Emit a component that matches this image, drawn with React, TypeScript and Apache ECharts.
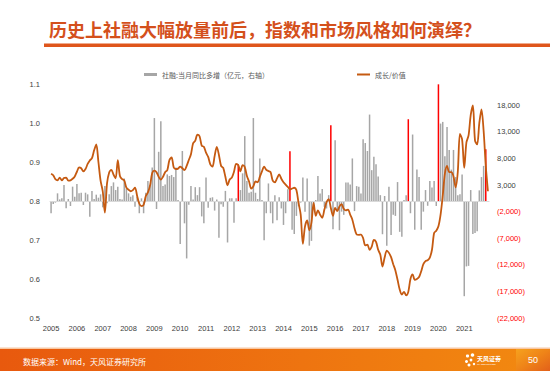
import React, { useEffect, useRef } from 'react';
import * as echarts from 'echarts';

// Monthly categories: Mar 2005 .. Feb 2022 (204 months)
const START_YEAR = 2005;
const START_MONTH = 3;
const MONTH_COUNT = 204;
const months: string[] = Array.from({ length: MONTH_COUNT }, (_, k) => {
  const m = START_MONTH - 1 + k;
  return `${START_YEAR + Math.floor(m / 12)}-${String((m % 12) + 1).padStart(2, '0')}`;
});

const yearLabels = ['2005', '2006', '2007', '2008', '2009', '2010', '2011', '2012', '2013', '2014', '2015', '2016', '2017', '2018', '2019', '2020', '2021'];

// 社融当月同比多增（亿元）
const tsfChange: (number | null)[] = [
  -2300, -560, -300, 1440, 300, 500, 3000, -1375, 375, -940, 2700, 800,
  3200, 1440, 1560, -750, 1560, 1250, -2940, 1875, 375, 1190, 625, 1250,
  -1190, 2800, -440, 1250, 2800, 3500, 2060, 2700, 375, 300, 4250, 2375,
  1440, 800, 1100, -1060, 800, -2300, 500, -2300, 1560, 3750, 3000, 6300,
  15600, -1500, 9250, 15000, 2800, 3100, 5000, 4700, 4900, 4500, 6300, 200,
  -8100, 9400, -4200, -10800, -700, 2800, 300, 2600, 1100, 2600, -2900, -4200,
  4400, -1250, 600, 700, -1800, 300, -6900, -600, -1100, 1900, -7800, 500,
  500, -4100, 500, 6880, 2060, 5200, 12200, 3750, 1560, 1750, 15600, 1560,
  375, 8000, 200, -7400, -2300, 3300, -2300, -4200, 1100, -3600, 700, -1400,
  -4500, -2300, 2200, 9375, -5400, -6200, -2800, -1000, -300, 4400, -2000, 4250,
  -8400, -7500, -1400, 200, 4700, 1400, 2250, -1100, -1400, 1100, 14250, -5300,
  11400, -1700, -5500, -2000, -2600, 3500, 3500, 3100, 8000, -1900, 2800, 2700,
  1400, 11600, 10900, 9400, 16250, 5800, 8300, 6900, 4600, 1100, -6250, 940,
  -8400, 2700, -6400, -2600, -2800, 3560, -5800, -6700, 200, 1100, 15375, -2300,
  12500, -5400, 5900, 4500, -5400, -2000, 2060, -900, 3750, 2560, 3750, -940,
  21940, 14560, 14875, 8400, 13900, 9600, 5900, 9600, 4500, 1100, 1250, 5000,
  -17900, -12300, -12200, 2060, -6200, -6000, -5700, 2000, 4500, 6600, 9750, null,
];

// 社融大幅放量月份（红色）
const surgeMonths = ['2012-06', '2014-06', '2016-01', '2019-01', '2020-03', '2022-01'];

// 成长/价值
const growthValue: number[] = [
  0.870, 0.866, 0.856, 0.853, 0.860, 0.853, 0.859, 0.860, 0.852, 0.853, 0.857, 0.863,
  0.875, 0.886, 0.884, 0.876, 0.882, 0.895, 0.904, 0.910, 0.930, 0.945, 0.900, 0.852,
  0.825, 0.770, 0.845, 0.873, 0.880, 0.868, 0.858, 0.905, 0.864, 0.856, 0.853, 0.834,
  0.829, 0.825, 0.828, 0.834, 0.813, 0.793, 0.787, 0.790, 0.812, 0.822, 0.840, 0.872,
  0.878, 0.874, 0.862, 0.855, 0.862, 0.874, 0.879, 0.905, 0.912, 0.886, 0.882, 0.883,
  0.888, 0.884, 0.879, 0.890, 0.905, 0.920, 0.948, 0.955, 0.970, 0.966, 0.942, 0.939,
  0.924, 0.913, 0.894, 0.888, 0.915, 0.939, 0.918, 0.890, 0.885, 0.862, 0.840, 0.855,
  0.860, 0.875, 0.895, 0.892, 0.876, 0.892, 0.887, 0.864, 0.850, 0.832, 0.838, 0.850,
  0.848, 0.862, 0.876, 0.888, 0.880, 0.877, 0.874, 0.852, 0.848, 0.858, 0.868, 0.857,
  0.848, 0.842, 0.836, 0.830, 0.832, 0.834, 0.828, 0.795, 0.765, 0.690, 0.735, 0.750,
  0.725, 0.745, 0.795, 0.762, 0.776, 0.765, 0.757, 0.778, 0.797, 0.805, 0.782, 0.762,
  0.782, 0.774, 0.786, 0.792, 0.780, 0.776, 0.778, 0.765, 0.752, 0.730, 0.714, 0.713,
  0.714, 0.705, 0.686, 0.688, 0.675, 0.683, 0.700, 0.695, 0.675, 0.662, 0.632, 0.655,
  0.673, 0.667, 0.656, 0.638, 0.622, 0.598, 0.573, 0.560, 0.567, 0.558, 0.567, 0.600,
  0.612, 0.598, 0.600, 0.605, 0.620, 0.638, 0.646, 0.648, 0.655, 0.675, 0.718, 0.724,
  0.735, 0.765, 0.813, 0.870, 0.890, 0.874, 0.874, 0.863, 0.835, 0.875, 0.972, 0.958,
  0.885, 0.950, 0.968, 1.020, 1.045, 0.955, 0.945, 1.000, 1.035, 0.980, 0.890, 0.825,
];

const rightAxisLabels = [-22000, -17000, -12000, -7000, -2000, 3000, 8000, 13000, 18000];

const BAR_NAME = '社融:当月同比多增（亿元，右轴）';
const LINE_NAME = '成长/价值';

const CJK = '"Noto Sans CJK SC", "Noto Sans", sans-serif';
const LATIN = '"Liberation Sans", Arial, sans-serif';

function fmtThousands(v: number): string {
  const s = Math.abs(v).toLocaleString('en-US');
  return v < 0 ? `(${s})` : s;
}

export default function App() {
  const ref = useRef<HTMLDivElement>(null);

  useEffect(() => {
    if (!ref.current) return;
    const chart = echarts.init(ref.current, null, { renderer: 'svg' });

    const barData = tsfChange.map((v, k) =>
      surgeMonths.includes(months[k]) ? { value: v, itemStyle: { color: '#FF0000' } } : v
    );

    chart.setOption({
      animation: false,
      backgroundColor: '#ffffff',
      title: {
        text: '历史上社融大幅放量前后，指数和市场风格如何演绎？',
        left: 44,
        top: 15,
        textStyle: { fontSize: 18, fontWeight: 'bold', color: '#D4501C', fontFamily: CJK },
      },
      legend: [
        {
          data: [{ name: BAR_NAME, icon: 'rect' }],
          left: 139,
          top: 66,
          itemWidth: 13,
          itemHeight: 3,
          textStyle: { fontSize: 7, color: '#595959', fontFamily: CJK },
        },
        {
          data: [{ name: LINE_NAME, icon: 'rect' }],
          left: 352,
          top: 66,
          itemWidth: 13,
          itemHeight: 2,
          textStyle: { fontSize: 7, color: '#595959', fontFamily: CJK },
        },
      ],
      grid: { left: 50, right: 61, top: 84, bottom: 53, outerBoundsMode: 'none' },
      xAxis: {
        type: 'category',
        data: months,
        boundaryGap: true,
        axisLine: { lineStyle: { color: '#D9D9D9', width: 1 } },
        axisTick: { interval: 11, length: 4, lineStyle: { color: '#D9D9D9' } },
        axisLabel: {
          interval: 11,
          margin: 6,
          fontSize: 7.5,
          color: '#404040',
          fontFamily: LATIN,
          formatter: (v: string, idx: number) => yearLabels[Math.round(idx / 12)] ?? v.slice(0, 4),
        },
        splitLine: { show: false },
      },
      yAxis: [
        {
          type: 'value',
          min: 0.5,
          max: 1.1,
          interval: 0.1,
          axisLine: { show: false },
          axisTick: { show: false },
          splitLine: { show: false },
          axisLabel: {
            margin: 10,
            fontSize: 7.5,
            color: '#404040',
            fontFamily: LATIN,
            formatter: (v: number) => v.toFixed(1),
          },
        },
        {
          type: 'value',
          min: -22000,
          max: 22000,
          axisLine: { show: false },
          axisTick: { show: false },
          splitLine: { show: false },
          axisLabel: {
            customValues: rightAxisLabels,
            margin: 8,
            fontSize: 7.5,
            fontFamily: LATIN,
            color: (v: any) => (Number(v) < 0 ? '#FF0000' : '#404040'),
            formatter: (v: number) => fmtThousands(v),
          },
        },
      ],
      series: [
        {
          name: BAR_NAME,
          type: 'bar',
          yAxisIndex: 1,
          data: barData,
          barCategoryGap: '30%',
          itemStyle: { color: '#A6A6A6' },
          markLine: {
            silent: true,
            symbol: 'none',
            label: { show: false },
            lineStyle: { color: '#D9D9D9', width: 1, type: 'solid' },
            data: [{ yAxis: 0 }],
          },
          z: 2,
        },
        {
          name: LINE_NAME,
          type: 'line',
          yAxisIndex: 0,
          data: growthValue,
          symbol: 'none',
          smooth: 0.3,
          lineStyle: { color: '#C55A11', width: 1.8 },
          itemStyle: { color: '#C55A11' },
          z: 5,
        },
      ],
      graphic: [
        { type: 'rect', left: 44, top: 43.5, shape: { width: 506, height: 3.5 }, style: { fill: '#DF561C' } },
        {
          type: 'rect',
          left: 0,
          top: 349,
          shape: { width: 550, height: 22 },
          style: {
            fill: new echarts.graphic.LinearGradient(0, 0, 1, 0, [
              { offset: 0, color: '#E8590E' },
              { offset: 0.55, color: '#EE7410' },
              { offset: 1, color: '#F28A10' },
            ]),
          },
        },
        { type: 'rect', left: 0, top: 347.5, shape: { width: 550, height: 1.5 }, style: { fill: '#F8C8A4' } },
        {
          type: 'rect',
          left: 516,
          top: 349,
          shape: { width: 34, height: 22 },
          style: {
            fill: new echarts.graphic.LinearGradient(0, 0, 1, 1, [
              { offset: 0, color: '#F6A21E' },
              { offset: 0.5, color: '#EF8418' },
              { offset: 1, color: '#E2601A' },
            ]),
          },
        },
        {
          type: 'text',
          left: 23,
          top: 357,
          style: { text: '数据来源：Wind，天风证券研究所', fill: '#ffffff', fontSize: 8, fontFamily: CJK },
        },
        // logo mark
        { type: 'circle', shape: { cx: 467.5, cy: 356, r: 1.6 }, style: { fill: '#ffffff' } },
        { type: 'circle', shape: { cx: 472.5, cy: 355, r: 1.8 }, style: { fill: '#ffffff' } },
        { type: 'circle', shape: { cx: 466.5, cy: 361.5, r: 1.5 }, style: { fill: '#ffffff' } },
        { type: 'circle', shape: { cx: 471, cy: 360, r: 1.4 }, style: { fill: '#ffffff' } },
        { type: 'circle', shape: { cx: 469, cy: 365, r: 1.5 }, style: { fill: '#ffffff' } },
        { type: 'circle', shape: { cx: 474, cy: 364, r: 1.2 }, style: { fill: '#ffffff' } },
        {
          type: 'text',
          left: 477,
          top: 355,
          style: { text: '天风证券', fill: '#ffffff', fontSize: 6, fontWeight: 'bold', fontFamily: CJK },
        },
        {
          type: 'text',
          left: 477,
          top: 363,
          style: { text: 'TF SECURITIES', fill: '#ffffff', fontSize: 2.5, fontFamily: LATIN },
        },
        {
          type: 'text',
          left: 528,
          top: 355,
          style: { text: '50', fill: '#ffffff', fontSize: 9, fontFamily: LATIN },
        },
      ],
    });

    return () => chart.dispose();
  }, []);

  return (
    <div
      ref={ref}
      style={{ position: 'fixed', left: 0, top: 0, width: 550, height: 371 }}
    />
  );
}
